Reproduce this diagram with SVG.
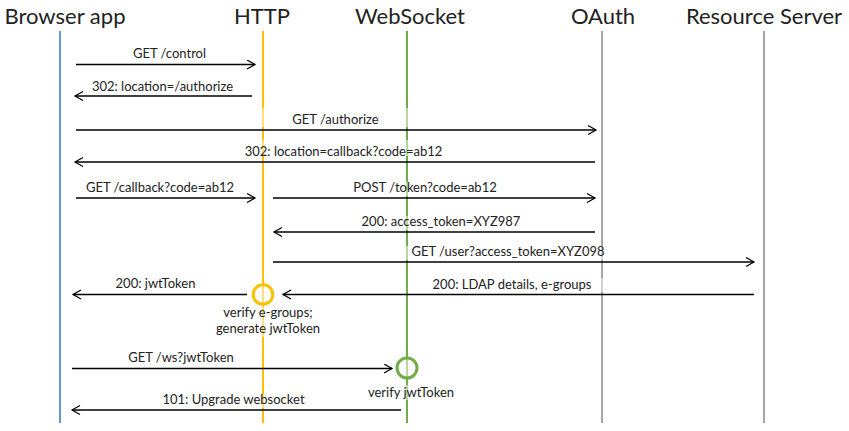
<svg xmlns="http://www.w3.org/2000/svg" width="849" height="431" viewBox="0 0 849 431">
<defs>
<style>
.title{font-family:Lato,"Noto Sans","Liberation Sans",sans-serif;font-size:22px;fill:#222;text-anchor:middle}
.lbl{font-family:Lato,"Noto Sans","Liberation Sans",sans-serif;font-size:13px;fill:#222;text-anchor:middle}
.life{stroke-width:2;fill:none}
.msg{stroke:#000;stroke-width:1.3;fill:none;marker-end:url(#ah)}
.bg{fill:#fff;opacity:0.5}
.act{fill:#fff;fill-opacity:0.5;stroke-width:3}
</style>
<marker id="ah" markerUnits="userSpaceOnUse" markerWidth="12" markerHeight="12" refX="9" refY="5" orient="auto" viewBox="0 0 12 12">
<path d="M1,0.5 L9,5 L1,9.5" fill="none" stroke="#000" stroke-width="1.2"/>
</marker>
</defs>
<rect width="849" height="431" fill="#fff"/>

<g id="browser">
<text class="title" x="65" y="24">Browser app</text>
<line class="life" x1="60" y1="31" x2="60" y2="423" stroke="#5B9BD5"/>
</g>
<g id="http">
<text class="title" x="262" y="24">HTTP</text>
<line class="life" x1="263" y1="31" x2="263" y2="423" stroke="#FFC000"/>
</g>
<g id="websocket">
<text class="title" x="410" y="24">WebSocket</text>
<line class="life" x1="407" y1="31" x2="407" y2="423" stroke="#70AD47"/>
</g>
<g id="oauth">
<text class="title" x="603" y="24">OAuth</text>
<line class="life" x1="602" y1="31" x2="602" y2="423" stroke="#A6A6A6"/>
</g>
<g id="resource">
<text class="title" x="764" y="24">Resource Server</text>
<line class="life" x1="764" y1="31" x2="764" y2="423" stroke="#A6A6A6"/>
</g>

<g id="label-backgrounds">
<rect class="bg" x="255" y="108" width="160" height="19"/>
<rect class="bg" x="238" y="140" width="215" height="16"/>
<rect class="bg" x="345" y="182" width="160" height="14"/>
<rect class="bg" x="356" y="216" width="170" height="14"/>
<rect class="bg" x="404" y="246" width="205" height="14"/>
<rect class="bg" x="425" y="278" width="180" height="14"/>
<rect class="bg" x="210" y="306" width="118" height="31"/>
<rect class="bg" x="155" y="394" width="157" height="14"/>
<rect class="bg" x="362" y="385" width="98" height="15"/>
</g>

<g id="connectors">
<line class="msg" x1="76" y1="64.5" x2="255" y2="64.5"/>
<line class="msg" x1="252" y1="96" x2="75" y2="96"/>
<line class="msg" x1="76" y1="130" x2="596" y2="130"/>
<line class="msg" x1="595" y1="162" x2="75" y2="162"/>
<line class="msg" x1="76" y1="198" x2="255" y2="198"/>
<line class="msg" x1="273" y1="198" x2="595" y2="198"/>
<line class="msg" x1="595" y1="232" x2="274" y2="232"/>
<line class="msg" x1="273" y1="262" x2="754" y2="262"/>
<line class="msg" x1="754" y1="294.5" x2="283" y2="294.5"/>
<line class="msg" x1="247" y1="294.5" x2="73" y2="294.5"/>
<line class="msg" x1="72" y1="368.5" x2="392" y2="368.5"/>
<line class="msg" x1="401" y1="410" x2="72" y2="410"/>
</g>

<g id="labels">
<text class="lbl" x="169.5" y="58">GET /control</text>
<text class="lbl" x="162.5" y="90.5">302: location=/authorize</text>
<text class="lbl" x="335.5" y="124">GET /authorize</text>
<text class="lbl" x="343.5" y="156">302: location=callback?code=ab12</text>
<text class="lbl" x="160" y="192">GET /callback?code=ab12</text>
<text class="lbl" x="425" y="192">POST /token?code=ab12</text>
<text class="lbl" x="441" y="226">200: access_token=XYZ987</text>
<text class="lbl" x="508" y="256">GET /user?access_token=XYZ098</text>
<text class="lbl" x="512" y="288.5">200: LDAP details, e-groups</text>
<text class="lbl" x="155.5" y="288">200: jwtToken</text>
<text class="lbl" x="181" y="362">GET /ws?jwtToken</text>
<text class="lbl" x="233.5" y="404">101: Upgrade websocket</text>
</g>

<g id="http-activation">
<circle class="act" cx="263" cy="294.5" r="9.8" stroke="#FFC000"/>
<text class="lbl" x="268" y="317">verify e-groups;</text>
<text class="lbl" x="268" y="333">generate jwtToken</text>
</g>
<g id="ws-activation">
<circle class="act" cx="407" cy="368" r="10" stroke="#70AD47"/>
<text class="lbl" x="411" y="397">verify jwtToken</text>
</g>
</svg>
